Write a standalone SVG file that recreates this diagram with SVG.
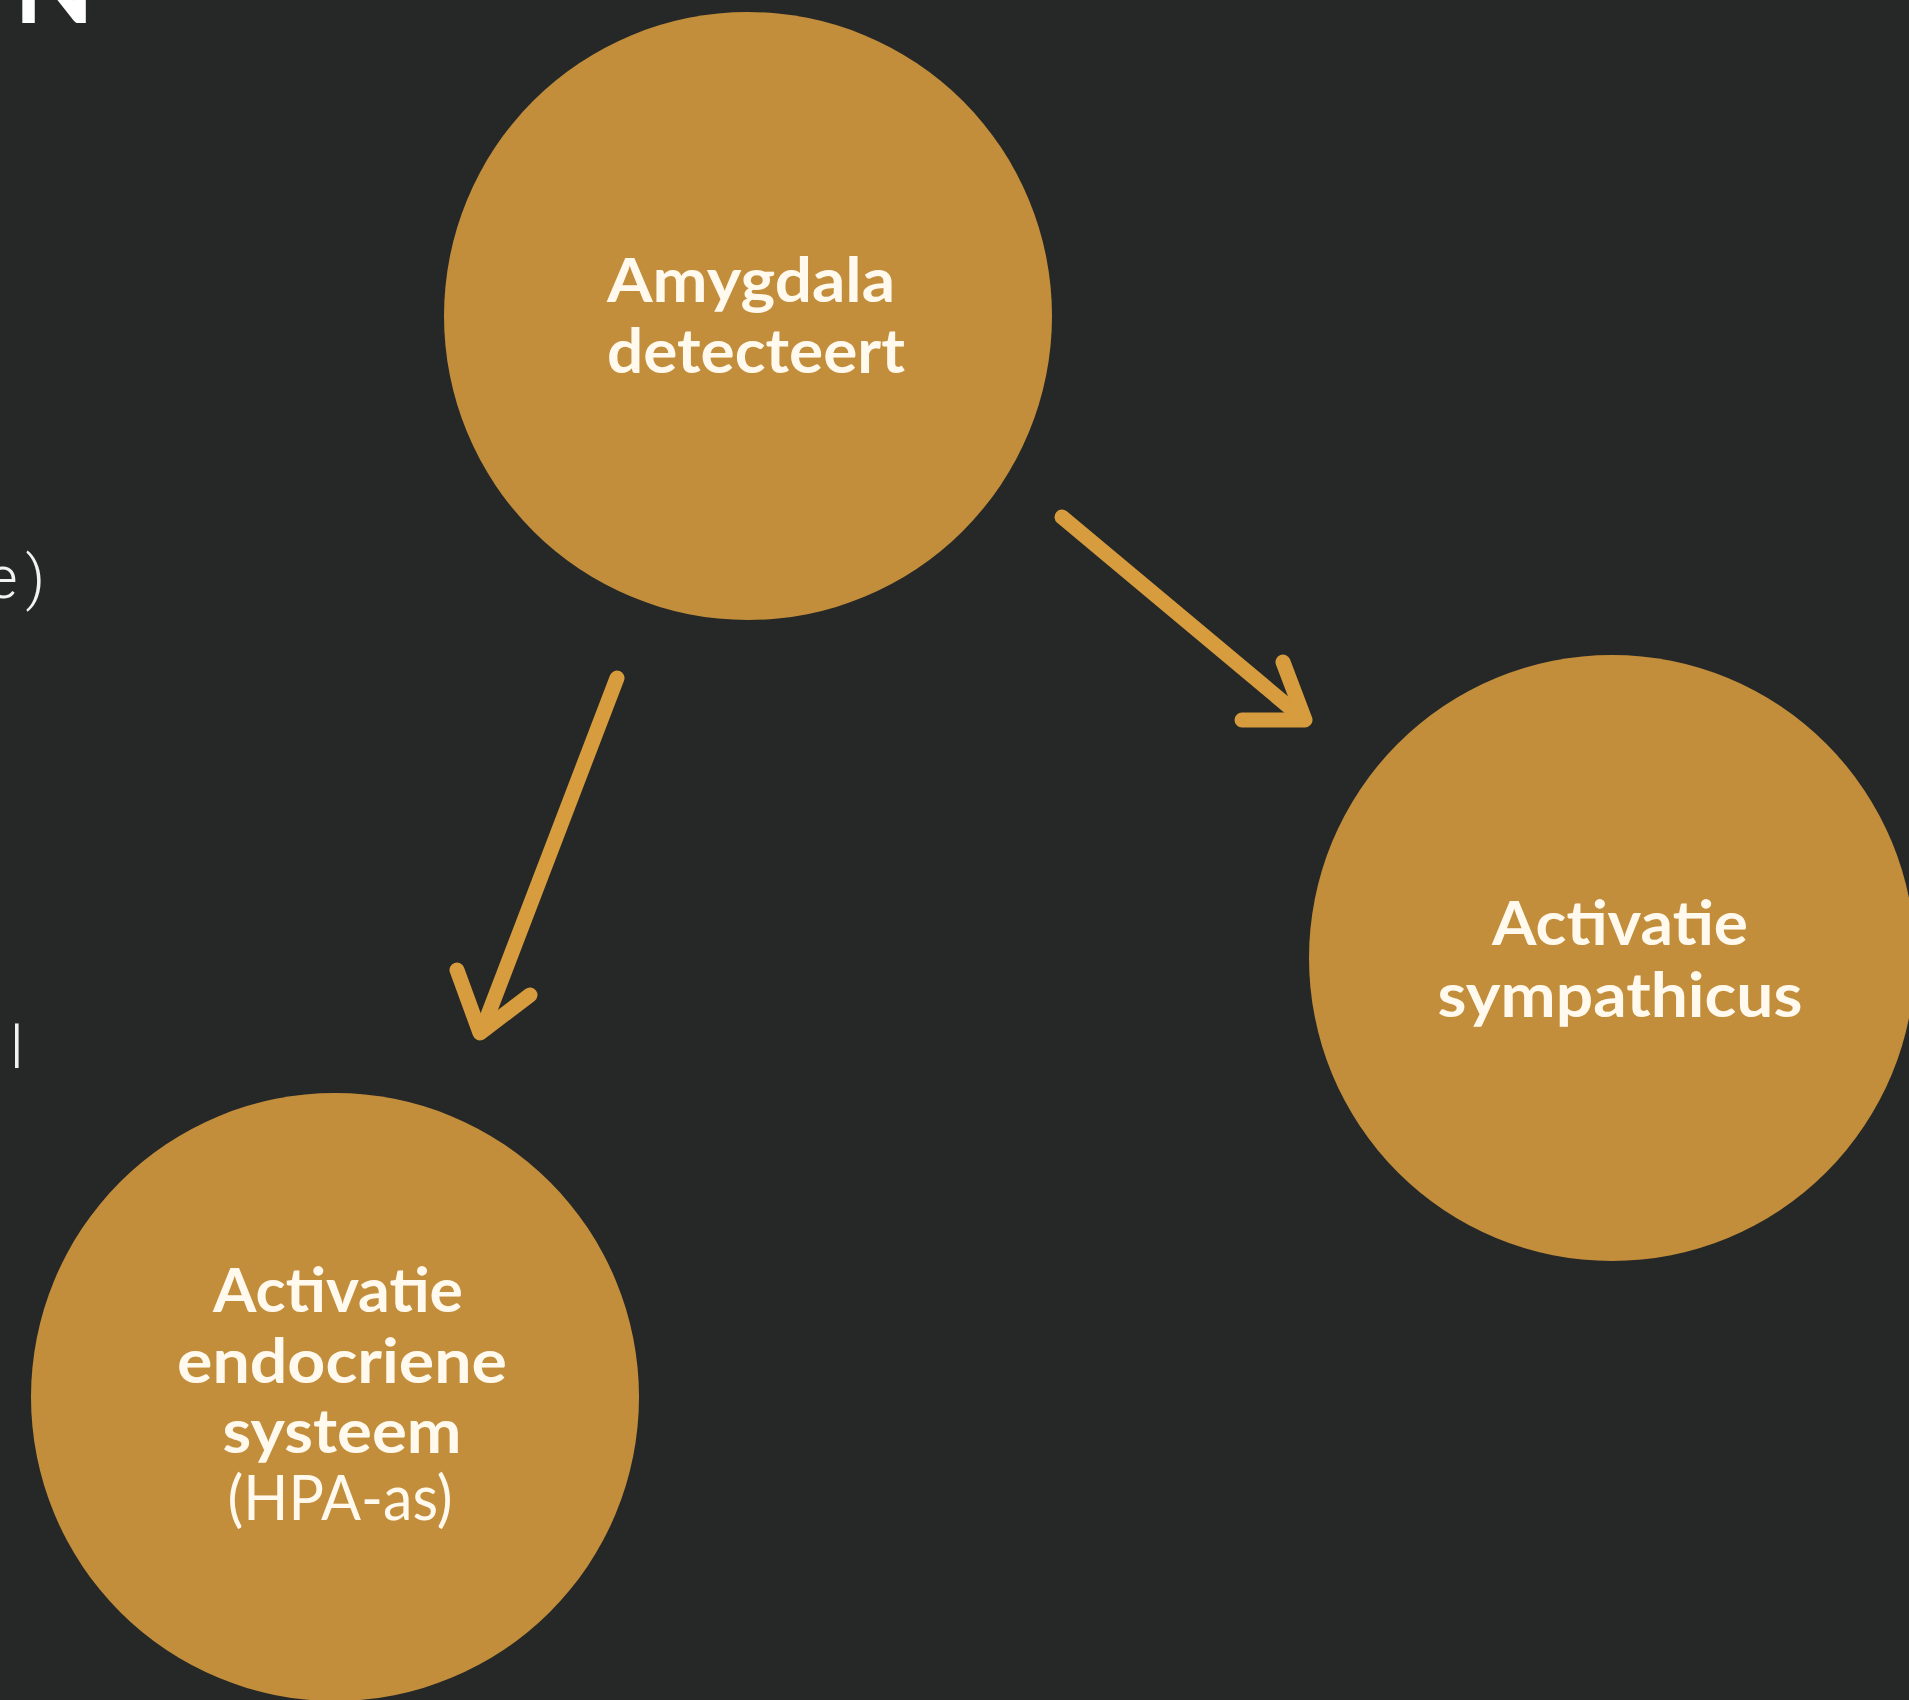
<svg xmlns="http://www.w3.org/2000/svg" width="1909" height="1700" viewBox="0 0 1909 1700">
<style>
.bg{fill:#262827}
.node{fill:#C38E3B}
.lbl{font-family:Lato,"Open Sans","Liberation Sans",sans-serif;font-weight:700;font-size:61px;fill:#FFF9EE;text-anchor:middle}
.reg{font-weight:400}
.frag{font-family:Roboto,"Noto Sans","Liberation Sans",sans-serif;font-weight:300;font-size:60px;fill:#F2F2F2}
.arrow{fill:none;stroke:#D69C3D;stroke-width:15;stroke-linecap:round;stroke-linejoin:round}
</style>
<rect class="bg" x="0" y="0" width="1909" height="1700"/>
<g id="fragments">
<text x="14" y="23" style="font-family:Lato,'Liberation Sans',sans-serif;font-weight:700;font-size:104px;fill:#FFFFFF">N</text>
<text class="frag" x="53" y="598" text-anchor="end" letter-spacing="8">e)</text>
<text class="frag" x="10" y="1068">l</text>
</g>
<g id="connectors">
<g id="arrow-amygdala-sympathicus">
<line class="arrow" x1="1062" y1="517" x2="1300" y2="716"/>
<polyline class="arrow" points="1283,662 1305,720 1242,720"/>
</g>
<g id="arrow-amygdala-endocrien">
<line class="arrow" x1="617" y1="678" x2="483" y2="1028"/>
<polyline class="arrow" points="457,970 480,1033 530,995"/>
</g>
</g>
<g id="node-amygdala">
<circle class="node" cx="748" cy="316" r="304"/>
<text class="lbl" x="751" y="302" textLength="288" lengthAdjust="spacingAndGlyphs">Amygdala</text>
<text class="lbl" x="756" y="373" textLength="298" lengthAdjust="spacingAndGlyphs">detecteert</text>
</g>
<g id="node-sympathicus">
<circle class="node" cx="1612" cy="958" r="303"/>
<text class="lbl" x="1620" y="945" textLength="256" lengthAdjust="spacingAndGlyphs">Activatie</text>
<text class="lbl" x="1620" y="1017" textLength="365" lengthAdjust="spacingAndGlyphs">sympathicus</text>
</g>
<g id="node-endocrien">
<circle class="node" cx="335" cy="1397" r="304"/>
<text class="lbl" x="338" y="1312" textLength="250" lengthAdjust="spacingAndGlyphs">Activatie</text>
<text class="lbl" x="342" y="1383" textLength="330" lengthAdjust="spacingAndGlyphs">endocriene</text>
<text class="lbl" x="342" y="1453" textLength="239" lengthAdjust="spacingAndGlyphs">systeem</text>
<text class="lbl reg" x="340" y="1520" textLength="225" lengthAdjust="spacingAndGlyphs">(HPA-as)</text>
</g>
</svg>
